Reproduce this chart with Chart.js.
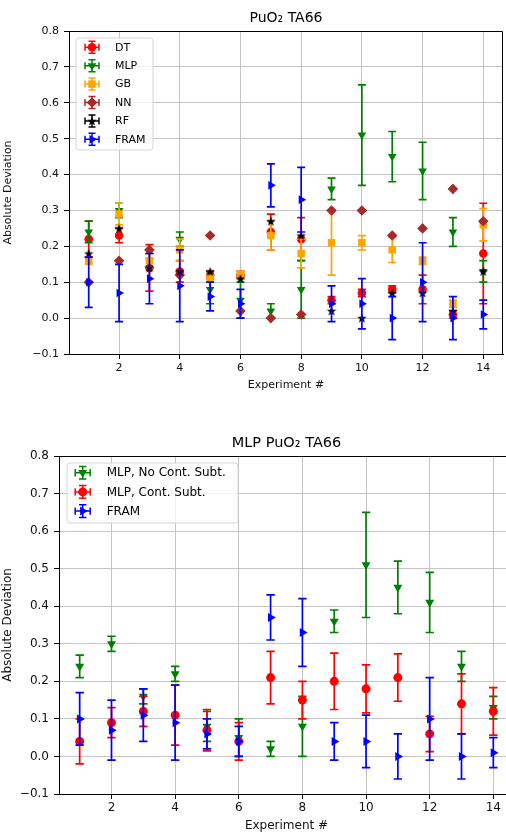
<!DOCTYPE html>
<html>
<head>
<meta charset="utf-8">
<script src="https://cdn.jsdelivr.net/npm/chart.js@4.4.0/dist/chart.umd.min.js"></script>
<style>
  html, body { margin: 0; padding: 0; background: #fff; overflow: hidden; }
  #wrap { position: relative; width: 506px; height: 834px; overflow: hidden; }
  #top { position: absolute; left: 0; top: 0; }
  #bottom { position: absolute; left: 0; top: 420px; }
</style>
</head>
<body>
<div id="wrap">
  <canvas id="top" width="506" height="400"></canvas>
  <canvas id="bottom" width="514" height="414"></canvas>
</div>
<script>
// experiment numbers and axis ticks
const experiments = [1, 2, 3, 4, 5, 6, 7, 8, 9, 10, 11, 12, 13, 14];
const xTicks = [2, 4, 6, 8, 10, 12, 14];
const yTicks = [-0.1, 0.0, 0.1, 0.2, 0.3, 0.4, 0.5, 0.6, 0.7, 0.8];

// top panel: PuO2 TA66, every model
const dtDev   = [0.22, 0.23, 0.14, 0.13, 0.12, 0.12, 0.24, 0.22, 0.05, 0.07, 0.08, 0.08, 0.01, 0.18];
const dtErr   = [0.05, 0.02, 0.065, 0.03, 0.01, 0.01, 0.05, 0.06, 0.01, 0.01, 0.01, 0.04, 0.01, 0.14];
const mlpDev  = [0.24, 0.30, 0.16, 0.22, 0.08, 0.05, 0.02, 0.08, 0.36, 0.51, 0.45, 0.41, 0.24, 0.13];
const mlpErr  = [0.03, 0.02, 0.02, 0.02, 0.04, 0.05, 0.02, 0.08, 0.03, 0.14, 0.07, 0.08, 0.04, 0.03];
const gbDev   = [0.16, 0.29, 0.16, 0.19, 0.11, 0.12, 0.23, 0.18, 0.21, 0.21, 0.19, 0.16, 0.04, 0.26];
const gbErr   = [0.01, 0.03, 0.02, 0.03, 0.01, 0.01, 0.04, 0.04, 0.09, 0.02, 0.035, 0.01, 0.01, 0.045];
const nnDev   = [0.10, 0.16, 0.19, 0.12, 0.23, 0.02, 0.00, 0.01, 0.30, 0.30, 0.23, 0.25, 0.36, 0.27];
const rfDev   = [0.18, 0.25, 0.14, 0.13, 0.13, 0.11, 0.27, 0.23, 0.02, 0.00, 0.07, 0.07, 0.02, 0.13];
const framDev = [0.10, 0.07, 0.11, 0.09, 0.06, 0.04, 0.37, 0.33, 0.04, 0.04, 0.00, 0.10, 0.00, 0.01];
const framErr = [0.07, 0.08, 0.07, 0.10, 0.04, 0.04, 0.06, 0.09, 0.05, 0.07, 0.06, 0.11, 0.06, 0.04];

// bottom panel: MLP with continuum subtraction
const mlpSubDev = [0.04, 0.09, 0.12, 0.11, 0.07, 0.04, 0.21, 0.15, 0.20, 0.18, 0.21, 0.06, 0.14, 0.12];
const mlpSubErr = [0.06, 0.04, 0.04, 0.08, 0.055, 0.05, 0.07, 0.05, 0.075, 0.064, 0.063, 0.047, 0.08, 0.063];

Chart.defaults.font.family = '"DejaVu Sans", sans-serif';
Chart.defaults.color = '#000';

// filled 5 point star like matplotlib '*'
function starImage(size, color) {
  const c = document.createElement('canvas');
  c.width = c.height = size;
  const g = c.getContext('2d');
  const R = size / 2, r = R * 0.42;
  g.fillStyle = color;
  g.beginPath();
  for (let k = 0; k < 10; k++) {
    const t = k * Math.PI / 5;
    const rr = k % 2 ? r : R;
    g.lineTo(R + Math.sin(t) * rr, R + 0.4 - Math.cos(t) * rr);
  }
  g.closePath();
  g.fill();
  return c;
}

// later series must end up on top, like matplotlib: chart.js draws high "order" first
function series(label, vals, errs, color, style, radius, rotation, order) {
  return {
    label: label,
    data: experiments.map((x, i) => ({ x: x, y: vals[i] })),
    errors: errs,
    order: order,
    backgroundColor: color,
    borderColor: color,
    pointStyle: style,
    pointRadius: radius,
    pointRotation: rotation || 0,
    pointBorderWidth: 0,
    showLine: false
  };
}

function drawMarker(ctx, style, x, y, r, rot) {
  if (style instanceof HTMLCanvasElement) {
    ctx.drawImage(style, x - style.width / 2, y - style.height / 2);
    return;
  }
  const a = (rot || 0) * Math.PI / 180;
  ctx.beginPath();
  if (style === 'circle') {
    ctx.arc(x, y, r, 0, Math.PI * 2);
  } else if (style === 'triangle') {
    for (let k = 0; k < 3; k++) {
      const t = a + k * 2 * Math.PI / 3;
      ctx.lineTo(x + Math.sin(t) * r, y - Math.cos(t) * r);
    }
  } else if (style === 'rect') {
    const s = r * Math.SQRT1_2;
    ctx.rect(x - s, y - s, 2 * s, 2 * s);
  } else if (style === 'rectRot') {
    ctx.moveTo(x - r, y); ctx.lineTo(x, y - r); ctx.lineTo(x + r, y); ctx.lineTo(x, y + r);
  }
  ctx.closePath();
  ctx.fill();
}

// vertical error bars, drawn just before each dataset's markers
const errorBars = {
  id: 'errorBars',
  beforeDatasetDraw(chart, args, opts) {
    const ds = chart.data.datasets[args.index];
    if (!ds.errors) return;
    const ctx = chart.ctx, a = chart.chartArea;
    const xs = chart.scales.x, ys = chart.scales.y;
    const cap = opts.cap;
    ctx.save();
    ctx.beginPath();
    ctx.rect(a.left, a.top, a.right - a.left, a.bottom - a.top);
    ctx.clip();
    ctx.strokeStyle = ds.borderColor;
    ctx.lineWidth = opts.width;
    ds.data.forEach((p, i) => {
      const e = ds.errors[i];
      if (!e) return;
      const px = xs.getPixelForValue(p.x);
      const lo = ys.getPixelForValue(p.y - e);
      const hi = ys.getPixelForValue(p.y + e);
      ctx.beginPath();
      ctx.moveTo(px, lo); ctx.lineTo(px, hi);
      ctx.moveTo(px - cap, lo); ctx.lineTo(px + cap, lo);
      ctx.moveTo(px - cap, hi); ctx.lineTo(px + cap, hi);
      ctx.stroke();
    });
    ctx.restore();
  }
};

// title over the plot area, top/right spines and the boxed legend
const boxLegend = {
  id: 'boxLegend',
  afterDraw(chart, args, o) {
    const ctx = chart.ctx, a = chart.chartArea;
    ctx.save();
    ctx.fillStyle = '#000';
    ctx.font = o.titleSize + 'px "DejaVu Sans"';
    ctx.textAlign = 'center';
    ctx.textBaseline = 'middle';
    ctx.fillText(o.title, (a.left + a.right) / 2, o.titleY);

    ctx.strokeStyle = '#000';
    ctx.lineWidth = 1;
    ctx.beginPath();
    const t = Math.round(a.top) + 0.5, r = Math.round(a.right) - 0.5;
    ctx.moveTo(a.left, t); ctx.lineTo(r, t); ctx.lineTo(r, a.bottom);
    ctx.stroke();

    // legend frame
    const rad = 3;
    ctx.beginPath();
    ctx.moveTo(o.x + rad, o.y);
    ctx.arcTo(o.x + o.w, o.y, o.x + o.w, o.y + o.h, rad);
    ctx.arcTo(o.x + o.w, o.y + o.h, o.x, o.y + o.h, rad);
    ctx.arcTo(o.x, o.y + o.h, o.x, o.y, rad);
    ctx.arcTo(o.x, o.y, o.x + o.w, o.y, rad);
    ctx.closePath();
    ctx.fillStyle = 'rgba(255,255,255,0.8)';
    ctx.fill();
    ctx.strokeStyle = '#d6d6d6';
    ctx.stroke();

    ctx.font = o.fontSize + 'px "DejaVu Sans"';
    ctx.textAlign = 'left';
    chart.data.datasets.forEach((ds, i) => {
      const cy = o.rowY + i * o.rowStep, cx = o.markerX;
      ctx.strokeStyle = ds.borderColor;
      ctx.fillStyle = ds.backgroundColor;
      ctx.lineWidth = 1.5;
      ctx.beginPath();
      ctx.moveTo(cx - o.hx, cy); ctx.lineTo(cx + o.hx, cy);
      ctx.moveTo(cx - o.hx, cy - o.cap); ctx.lineTo(cx - o.hx, cy + o.cap);
      ctx.moveTo(cx + o.hx, cy - o.cap); ctx.lineTo(cx + o.hx, cy + o.cap);
      ctx.moveTo(cx, cy - o.vy); ctx.lineTo(cx, cy + o.vy);
      ctx.moveTo(cx - o.cap, cy - o.vy); ctx.lineTo(cx + o.cap, cy - o.vy);
      ctx.moveTo(cx - o.cap, cy + o.vy); ctx.lineTo(cx + o.cap, cy + o.vy);
      ctx.stroke();
      drawMarker(ctx, ds.pointStyle, cx, cy, ds.pointRadius, ds.pointRotation);
      ctx.fillStyle = '#000';
      ctx.fillText(ds.label, o.textX, cy + 0.5);
    });
    ctx.restore();
  }
};

function makeChart(id, c) {
  return new Chart(document.getElementById(id), {
    type: 'scatter',
    data: { datasets: c.datasets },
    options: {
      responsive: false,
      animation: false,
      events: [],
      layout: { autoPadding: false, padding: { left: 0, right: c.padRight, top: c.padTop, bottom: 0 } },
      plugins: {
        legend: { display: false },
        tooltip: { enabled: false },
        errorBars: { cap: c.cap, width: 1.7 },
        boxLegend: c.legend
      },
      scales: {
        x: {
          type: 'linear',
          min: 0.35,
          max: 14.65,
          afterFit: s => { s.height = c.xHeight; },
          afterBuildTicks: s => { s.ticks = xTicks.map(v => ({ value: v })); },
          ticks: { padding: c.xTickPad, font: { size: c.fontSize }, color: '#111' },
          grid: { color: '#c4c4c4', lineWidth: 1, tickColor: '#000', tickLength: 5, tickWidth: 1 },
          border: { color: '#000', width: 1 },
          title: { display: true, text: 'Experiment #', font: { size: c.fontSize }, color: '#111',
                   padding: { top: 0, bottom: c.xTitlePad } }
        },
        y: {
          min: -0.1,
          max: 0.8,
          afterFit: s => { s.width = c.yWidth; },
          afterBuildTicks: s => { s.ticks = yTicks.map(v => ({ value: v })); },
          ticks: {
            padding: 5, font: { size: c.fontSize }, color: '#111',
            callback: v => (v < -1e-9 ? '\u2212' : '') + Math.abs(v).toFixed(1)
          },
          grid: { color: '#c4c4c4', lineWidth: 1, tickColor: '#000', tickLength: 5, tickWidth: 1 },
          border: { color: '#000', width: 1 },
          title: { display: true, text: 'Absolute Deviation', font: { size: c.fontSize }, color: '#111',
                   padding: { top: c.yTitlePad, bottom: 0 } }
        }
      }
    },
    plugins: [errorBars, boxLegend]
  });
}

// top panel
makeChart('top', {
  datasets: [
    series('DT', dtDev, dtErr, '#ff0000', 'circle', 4.3, 0, 6),
    series('MLP', mlpDev, mlpErr, '#008000', 'triangle', 5, 180, 5),
    series('GB', gbDev, gbErr, '#ffa500', 'rect', 5.3, 0, 4),
    series('NN', nnDev, null, '#a52a2a', 'rectRot', 5.3, 0, 3),
    series('RF', rfDev, null, '#000000', starImage(10, '#000000'), 5, 0, 2),
    series('FRAM', framDev, framErr, '#0000ff', 'triangle', 5, 90, 1)
  ],
  padRight: 3, padTop: 31, xHeight: 46, yWidth: 69,
  fontSize: 11, xTickPad: 3, xTitlePad: 8.4, yTitlePad: 1.9, cap: 4,
  legend: {
    title: 'PuO\u2082 TA66', titleSize: 14, titleY: 18,
    x: 76, y: 38, w: 77, h: 112, rowY: 47.3, rowStep: 18.4,
    markerX: 92, textX: 115, fontSize: 11, hx: 7, vy: 6, cap: 3.5
  }
});

// bottom panel
makeChart('bottom', {
  datasets: [
    series('MLP, No Cont. Subt.', mlpDev, mlpErr, '#008000', 'triangle', 5.2, 180, 3),
    series('MLP, Cont. Subt.', mlpSubDev, mlpSubErr, '#ff0000', 'circle', 4.5, 0, 2),
    series('FRAM', framDev, framErr, '#0000ff', 'triangle', 5.2, 90, 1)
  ],
  padRight: 0, padTop: 36, xHeight: 40, yWidth: 59,
  fontSize: 12, xTickPad: 2, xTitlePad: 0.8, yTitlePad: 0.3, cap: 4.2,
  legend: {
    title: 'MLP PuO\u2082 TA66', titleSize: 14.5, titleY: 23,
    x: 67, y: 43, w: 171, h: 60, rowY: 52.7, rowStep: 19.2,
    markerX: 82.7, textX: 106.7, fontSize: 12, hx: 7.5, vy: 6.3, cap: 3.7
  }
});
</script>
</body>
</html>
